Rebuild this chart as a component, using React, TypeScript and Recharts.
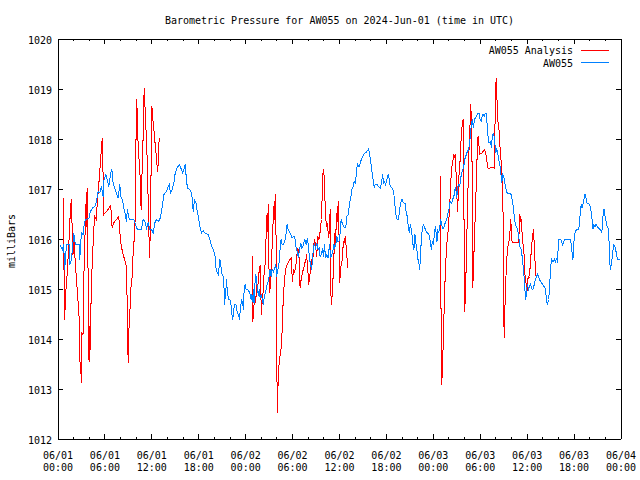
import React from 'react';
import { LineChart, Line, XAxis, YAxis } from 'recharts';

// ---- AW055 station observations (hours since 2024-06-01 00:00 UTC, millibars) ----
const stationDay1Hours = [0.21,0.56,0.73,0.85,0.98,1.07,1.41,1.50,1.71,1.84,2.01,2.14,2.26,2.69,2.78,2.86,2.99,3.20,3.37,3.54,3.97,4.14,4.40,4.70,4.91,5.12,5.34,5.55,5.76,5.89,6.11,6.28,6.49,6.62,6.75,6.88,7.05,7.26,7.47,7.69,7.90,8.03,8.24,8.41,8.58,8.75,8.88,9.01,9.18,9.69,9.86,10.03,10.25,10.68,10.89,11.10,11.32,11.53,11.74,11.96,12.17,12.38,12.60,12.81,13.02,13.24,13.37,13.54,13.88,14.09,14.22,14.39,14.60,14.82,14.99,15.24,15.50,15.71,15.93,16.10,16.27,16.44,16.57,16.87,17.08,17.21,17.29,17.46,17.64,17.81,17.98,18.15,18.36,18.57,18.79,19.21,19.43,19.64,19.86,20.07,20.15,20.28,20.50,20.67,20.71,20.84,20.93,21.14,21.23,21.27,21.44,21.57,21.65,21.83,22.08,22.21,22.34,22.47,22.55,22.76,22.94,23.11,23.19,23.36,23.49,23.62,23.70,23.79,23.92];
const stationDay1Mb = [1015.89,1015.79,1015.89,1015.39,1015.62,1015.89,1015.89,1015.49,1015.59,1015.79,1016.12,1015.95,1015.89,1015.89,1015.59,1015.79,1016.12,1016.09,1016.32,1016.39,1016.42,1016.55,1016.62,1016.65,1016.75,1016.95,1016.92,1017.05,1016.85,1017.19,1017.29,1017.19,1017.05,1017.19,1017.32,1017.40,1017.12,1017.02,1016.92,1016.82,1017.09,1016.85,1016.79,1016.62,1016.52,1016.35,1016.59,1016.45,1016.39,1016.39,1016.32,1016.22,1016.19,1016.19,1016.39,1016.35,1016.22,1016.32,1016.19,1016.19,1016.12,1016.32,1016.39,1016.35,1016.39,1016.55,1016.69,1016.89,1016.95,1017.05,1017.09,1016.92,1016.99,1017.12,1017.32,1017.42,1017.49,1017.42,1017.32,1017.39,1017.49,1017.15,1017.02,1016.99,1016.92,1016.75,1016.55,1016.79,1016.72,1016.55,1016.42,1016.25,1016.12,1016.17,1016.12,1016.09,1015.99,1015.85,1015.79,1015.69,1015.49,1015.35,1015.29,1015.52,1015.59,1015.45,1015.32,1015.25,1015.02,1014.69,1014.92,1015.19,1014.92,1014.79,1014.77,1014.52,1014.39,1014.55,1014.69,1014.69,1014.52,1014.49,1014.39,1014.65,1014.79,1014.72,1014.59,1014.92,1015.09];

const stationDay2aHours = [24.05,24.22,24.43,24.56,24.69,24.81,24.90,24.98,25.07,25.16,25.28,25.41,25.50,25.63,25.75,25.84,25.97,26.10,26.27,26.39,26.56,26.69,26.82,26.95,27.03,27.12,27.25,27.38,27.55,27.72,27.85,27.97,28.10,28.23,28.40,28.53,28.66,28.83,29.04,29.17,29.30,29.43,29.60,29.77,29.94,30.11,30.28,30.45,30.62,30.75,30.88,31.05,31.18,31.30,31.43,31.56,31.73,31.90];
const stationDay2aMb = [1014.99,1014.99,1014.95,1014.89,1014.79,1014.89,1014.75,1014.99,1014.72,1015.05,1015.29,1015.19,1014.95,1014.89,1014.99,1014.82,1014.89,1014.82,1014.69,1014.85,1014.95,1015.05,1015.12,1015.19,1015.29,1015.39,1015.25,1015.39,1015.35,1015.42,1015.49,1015.25,1015.39,1015.45,1015.79,1015.99,1015.89,1015.89,1015.99,1016.12,1016.30,1016.19,1016.15,1016.09,1016.02,1016.05,1016.05,1015.82,1015.72,1015.62,1015.79,1015.92,1015.82,1015.85,1015.92,1015.99,1015.89,1016.02];

const stationDay2bHours = [32.03,32.16,32.29,32.41,32.54,32.67,32.80,32.93,33.10,33.27,33.40,33.52,33.70,33.82,33.95,34.08,34.21,34.38,34.55,34.72,34.89,35.02,35.15,35.27,35.40,35.53,35.66,35.79,35.92,36.09,36.21,36.34,36.51,36.68,36.81,36.94,37.11,37.24,37.37,37.50,37.62,37.75,37.88,38.05,38.18,38.31,38.48,38.65];
const stationDay2bMb = [1015.85,1015.62,1015.49,1015.39,1015.55,1015.85,1015.89,1015.82,1015.92,1015.79,1015.82,1015.65,1015.69,1015.82,1015.65,1015.89,1015.62,1015.69,1015.62,1015.89,1015.62,1015.69,1015.75,1015.89,1015.82,1015.89,1016.05,1015.95,1015.95,1016.12,1016.39,1016.32,1016.25,1016.22,1016.25,1016.45,1016.49,1016.65,1016.79,1016.89,1017.02,1017.05,1017.15,1017.12,1017.39,1017.49,1017.44,1017.52];

const stationDay2cHours = [38.86,39.08,39.29,39.50,39.72,39.85,40.02,40.14,40.27,40.44,40.57,40.78,41.00,41.21,41.34,41.51,41.64,41.77,41.90,42.07,42.24,42.36,42.49,42.71,42.92,43.05,43.18,43.35,43.56,43.69,43.82,43.99,44.20,44.41,44.54,44.67,44.80,44.93,45.05,45.18,45.31,45.40,45.52,45.65,45.74,45.82,45.95,46.04,46.17,46.25,46.34,46.46,46.59,46.72,46.85,46.98,47.10,47.23,47.36,47.49,47.62,47.75,47.87];
const stationDay2cMb = [1017.62,1017.69,1017.72,1017.75,1017.80,1017.69,1017.52,1017.35,1017.22,1017.02,1017.09,1017.09,1017.05,1017.02,1017.09,1017.29,1017.12,1017.15,1017.09,1017.19,1017.29,1017.19,1017.05,1017.02,1016.95,1016.75,1016.52,1016.40,1016.40,1016.59,1016.72,1016.79,1016.72,1016.71,1016.52,1016.45,1016.25,1016.12,1016.29,1016.19,1016.05,1015.89,1015.79,1016.09,1015.95,1015.85,1015.72,1015.59,1015.49,1015.39,1015.59,1015.99,1016.19,1016.29,1016.25,1016.19,1016.15,1016.12,1016.12,1016.05,1015.95,1015.79,1015.95];

const stationDay3aHours = [48.00,48.13,48.26,48.39,48.47,48.56,48.68,48.81,48.94,49.07,49.20,49.32,49.45,49.58,49.75,49.88,49.97,50.09,50.22,50.35,50.48,50.61,50.73,50.86,50.99,51.12,51.25,51.37,51.50,51.63,51.76,51.89,52.01,52.14,52.27,52.40,52.53,52.66,52.74,52.87,52.99,53.12,53.25,53.38,53.51,53.59,53.72,53.85,53.98,54.11,54.24,54.36,54.49,54.62,54.79,54.88,55.00,55.13,55.30,55.43,55.56,55.73,55.86,55.99,56.11,56.24,56.37,56.50,56.63,56.75,56.88,57.01,57.14,57.27,57.44,57.61,57.78,57.95,58.08,58.21,58.33,58.46,58.59,58.72,58.85,58.97,59.10,59.23,59.36,59.49,59.57,59.66,59.74,59.83,59.91];
const stationDay3aMb = [1015.89,1016.09,1016.25,1016.09,1015.95,1016.19,1016.12,1016.22,1016.39,1016.29,1016.22,1016.22,1016.29,1016.35,1016.42,1016.52,1016.55,1016.72,1016.75,1016.72,1016.82,1016.82,1016.99,1017.02,1016.82,1017.05,1017.09,1017.05,1017.22,1017.32,1017.39,1017.45,1017.59,1017.65,1017.72,1017.75,1017.82,1017.92,1018.12,1018.29,1018.39,1018.22,1018.39,1018.42,1018.45,1018.49,1018.52,1018.51,1018.39,1018.35,1018.45,1018.49,1018.45,1018.51,1018.51,1018.29,1018.05,1017.92,1017.95,1017.82,1018.09,1018.11,1017.92,1017.72,1017.79,1017.72,1017.59,1017.49,1017.32,1017.12,1017.29,1017.25,1017.12,1017.02,1016.92,1016.91,1016.91,1016.89,1016.79,1016.65,1016.49,1016.32,1016.25,1016.22,1016.12,1015.99,1015.82,1015.79,1015.65,1015.45,1015.32,1015.12,1014.92,1014.79,1014.99];

const stationDay3bHours = [60.04,60.17,60.30,60.43,60.55,60.68,60.81,60.94,61.07,61.20,61.32,61.45,61.58,61.71,61.84,61.96,62.09,62.22,62.35,62.48,62.60,62.73,62.86,62.99,63.12,63.24,63.37,63.50,63.63,63.76,63.88,64.01,64.14,64.27,64.40,64.53,64.70,64.87,65.47,65.64,65.77,65.85,65.98,66.11,66.24,66.41,66.58,66.71,66.79,66.92,67.00,67.13,67.26,67.39,67.52,67.65,67.82,67.99,68.11,68.24,68.33,68.41,68.54,68.67,68.80,68.97,69.10,69.27,69.40,69.52,69.61,69.69,69.82,69.91,69.99,70.12,70.25,70.38,70.46,70.55,70.63,70.72,70.85,70.98,71.10,71.23,71.36,71.49,71.62,71.83];
const stationDay3bMb = [1015.09,1014.99,1015.05,1015.09,1015.02,1014.99,1015.02,1015.12,1015.19,1015.25,1015.29,1015.25,1015.19,1015.15,1015.12,1015.11,1015.05,1015.05,1014.99,1014.75,1014.69,1014.79,1014.99,1015.42,1015.59,1015.55,1015.55,1015.59,1015.55,1015.62,1015.52,1015.99,1016.00,1016.00,1015.95,1015.89,1015.95,1016.00,1016.00,1015.89,1015.69,1015.59,1015.95,1016.12,1016.17,1016.20,1016.20,1016.33,1016.55,1016.69,1016.62,1016.69,1016.79,1016.90,1016.82,1016.72,1016.71,1016.69,1016.62,1016.49,1016.32,1016.20,1016.29,1016.25,1016.29,1016.25,1016.22,1016.20,1016.20,1016.12,1016.22,1016.45,1016.60,1016.52,1016.42,1016.33,1016.24,1016.20,1015.99,1015.59,1015.39,1015.45,1015.59,1015.79,1015.89,1015.84,1015.75,1015.64,1015.59,1015.59];

// ---- AW055 Analysis (hours, millibars) ----
const analysisDay1Hours = [0.73,0.75,0.85,0.98,1.15,1.28,1.50,1.58,1.71,1.79,1.92,2.01,2.26,2.43,2.56,2.69,2.78,2.90,2.99,3.07,3.20,3.33,3.46,3.54,3.63,3.72,3.80,3.89,3.97,4.06,4.14,4.23,4.31,4.44,4.57,4.70,4.91,5.04,5.17,5.34,5.47,5.59,5.68,5.76,5.85,6.19,6.53,6.75,6.83,6.92,7.13,7.47,7.77,7.90,7.99,8.11,8.24,8.41,8.58,8.75,8.88,8.97,9.05,9.18,9.31,9.48,9.61,9.74,9.86,9.95,10.03,10.12,10.16,10.29,10.38,10.46,10.55,10.63,10.72,10.85,10.93,11.02,11.10,11.19,11.32,11.40,11.49,11.57,11.66,11.74,11.83,11.91,12.00,12.08,12.17,12.30,12.43,12.55,12.68,12.77,12.85,12.94];
const analysisDay1Mb = [1016.82,1015.62,1014.39,1014.92,1015.25,1015.59,1016.25,1016.59,1016.79,1016.32,1015.69,1016.05,1015.42,1015.05,1014.75,1014.45,1013.59,1013.45,1013.12,1014.12,1014.09,1015.39,1016.12,1016.69,1016.25,1017.02,1016.15,1014.39,1013.55,1014.25,1013.79,1014.79,1015.25,1015.72,1016.19,1016.45,1016.39,1016.79,1016.99,1017.35,1017.62,1017.92,1018.02,1017.32,1016.49,1016.55,1016.62,1016.67,1016.45,1016.22,1016.32,1016.39,1016.45,1016.19,1015.95,1015.85,1015.75,1015.65,1015.55,1015.45,1014.49,1013.52,1014.12,1014.49,1014.99,1015.25,1015.72,1015.99,1016.39,1017.59,1018.79,1018.59,1018.19,1017.79,1017.55,1017.39,1017.05,1016.59,1017.19,1017.79,1018.39,1019.02,1018.72,1018.45,1017.92,1017.62,1017.05,1016.45,1015.92,1015.62,1016.72,1017.39,1018.65,1018.52,1018.32,1018.12,1017.89,1017.69,1017.45,1017.35,1017.72,1018.02];

const analysisDay2Hours = [24.90,24.92,25.03,25.16,25.28,25.41,25.50,25.63,25.75,25.84,25.92,26.01,26.10,26.18,26.27,26.39,26.48,26.56,26.65,26.74,26.82,26.91,26.99,27.08,27.16,27.25,27.33,27.42,27.50,27.59,27.67,27.76,27.85,27.89,27.97,28.06,28.14,28.23,28.36,28.53,28.66,28.74,28.83,28.91,29.00,29.08,29.21,29.34,29.51,29.68,29.81,29.89,29.98,30.11,30.24,30.36,30.45,30.54,30.62,30.71,30.79,30.88,30.96,31.05,31.18,31.30,31.43,31.56,31.69,31.77,31.86,31.94,32.07,32.16,32.29,32.37,32.46,32.54,32.63,32.71,32.80,32.88,32.97,33.05,33.14,33.23,33.31,33.44,33.52,33.61,33.70,33.78,33.87,33.95,34.04,34.12,34.21,34.29,34.38,34.46,34.55,34.63,34.72,34.81,34.89,34.98,35.06,35.15,35.23,35.32,35.40,35.49,35.57,35.66,35.74,35.83,35.92,36.00,36.09,36.17,36.30,36.39,36.47,36.56,36.64,36.73,36.81,36.90,36.98,37.07];
const analysisDay2Mb = [1015.65,1014.35,1014.59,1014.92,1014.72,1015.09,1014.92,1015.22,1015.39,1015.47,1015.05,1014.49,1014.72,1014.79,1015.09,1015.39,1015.49,1015.82,1016.19,1016.52,1016.15,1016.69,1015.32,1014.92,1015.12,1015.39,1015.65,1015.99,1016.32,1016.59,1016.75,1016.35,1016.90,1015.82,1013.62,1012.52,1013.09,1013.42,1013.62,1013.82,1014.15,1014.55,1014.85,1015.05,1015.22,1015.39,1015.45,1015.49,1015.55,1015.59,1015.62,1015.39,1015.15,1015.39,1015.32,1015.42,1015.52,1015.65,1015.82,1015.65,1015.79,1015.39,1015.02,1015.15,1015.25,1015.35,1015.42,1015.52,1015.55,1015.69,1015.55,1015.39,1015.09,1015.25,1015.35,1015.49,1015.59,1015.62,1015.65,1015.89,1015.99,1015.92,1015.85,1015.65,1015.79,1016.05,1015.99,1016.02,1016.15,1016.29,1016.39,1016.85,1017.29,1017.40,1017.25,1016.85,1016.55,1016.32,1016.25,1016.32,1016.12,1016.02,1016.25,1016.59,1014.92,1014.69,1014.89,1015.12,1015.45,1015.79,1016.12,1015.92,1016.25,1016.52,1016.35,1016.75,1016.39,1015.12,1015.25,1015.45,1015.52,1015.65,1015.89,1015.95,1015.92,1016.05,1015.92,1015.72,1015.59,1015.42];

const analysisDay3Hours = [48.90,48.95,49.07,49.15,49.24,49.32,49.41,49.50,49.62,49.71,49.84,49.92,50.01,50.09,50.18,50.26,50.35,50.43,50.52,50.61,50.69,50.78,50.86,50.95,51.03,51.12,51.20,51.29,51.37,51.46,51.55,51.63,51.72,51.80,51.89,51.97,52.02,52.10,52.19,52.27,52.36,52.44,52.53,52.61,52.70,52.78,52.87,52.95,53.04,53.12,53.21,53.30,53.38,53.47,53.55,53.64,53.72,53.81,53.89,54.28,54.53,54.66,54.79,54.88,55.00,55.30,55.64,55.77,55.86,55.94,56.03,56.11,56.20,56.28,56.37,56.46,56.54,56.63,56.71,56.80,56.88,56.97,57.05,57.14,57.22,57.31,57.39,57.48,57.61,57.74,57.82,57.91,57.99,58.08,58.50,58.85,58.93,59.02,59.10,59.19,59.27,59.36,59.44,59.53,59.62,59.70,59.79,59.87,59.96,60.04,60.13,60.21,60.30,60.38,60.47,60.55,60.64,60.73,60.81,60.90,60.98,61.07];
const analysisDay3Mb = [1017.25,1015.19,1013.09,1013.35,1013.79,1014.25,1014.72,1015.19,1015.62,1015.89,1016.05,1016.25,1016.45,1016.69,1016.92,1017.22,1017.42,1017.52,1017.59,1017.69,1017.65,1017.69,1017.45,1017.19,1016.79,1016.55,1017.02,1017.29,1017.42,1017.69,1017.99,1018.19,1018.29,1018.39,1017.05,1015.45,1014.55,1014.92,1015.39,1015.99,1016.49,1017.05,1017.62,1017.99,1018.32,1018.69,1018.39,1017.52,1015.02,1015.32,1015.79,1016.19,1016.59,1016.99,1017.45,1017.79,1018.05,1017.99,1017.69,1017.73,1017.79,1017.75,1017.62,1017.52,1017.42,1017.42,1017.44,1017.42,1018.05,1018.72,1019.22,1018.95,1018.52,1018.32,1018.29,1017.95,1017.82,1017.65,1017.39,1017.19,1017.02,1015.59,1014.02,1014.52,1015.02,1015.32,1015.59,1015.79,1015.92,1015.99,1016.19,1016.39,1016.09,1015.92,1015.93,1015.92,1015.95,1016.49,1016.35,1016.45,1016.25,1016.12,1015.95,1015.82,1015.65,1015.32,1015.19,1015.09,1014.92,1015.12,1015.25,1015.22,1015.25,1015.45,1015.65,1015.79,1015.99,1016.09,1016.19,1015.89,1015.65,1015.25];

// hours at which the analysis has no data (breaks the line)
const analysisGapHours = [13.0, 37.2];

// ---- axes ----
const xMinorTicks = [0,2,4,6,8,10,12,14,16,18,20,22,24,26,28,30,32,34,36,38,40,42,44,46,48,50,52,54,56,58,60,62,64,66,68,70,72];
const xMajorTicks = [0,6,12,18,24,30,36,42,48,54,60,66,72];
const xTickDates = ['06/01','06/01','06/01','06/01','06/02','06/02','06/02','06/02','06/03','06/03','06/03','06/03','06/04'];
const xTickTimes = ['00:00','06:00','12:00','18:00','00:00','06:00','12:00','18:00','00:00','06:00','12:00','18:00','00:00'];
const yTicks = [1012,1013,1014,1015,1016,1017,1018,1019,1020];
const yTickLabels = ['1012','1013','1014','1015','1016','1017','1018','1019','1020'];

const TITLE = 'Barometric Pressure for AW055 on 2024-Jun-01 (time in UTC)';
const Y_LABEL = 'milliBars';
const SERIES_ANALYSIS = 'AW055 Analysis';
const SERIES_STATION = 'AW055';
const RED = '#ff0000';
const BLUE = '#0080ff';
const FONT = '"DejaVu Sans Mono", monospace';

type Pt = { t: number; mb: number | null };
const toPoints = (hours: number[], mb: number[]): Pt[] =>
  hours.slice(0, Math.min(hours.length, mb.length)).map((t, i) => ({ t, mb: mb[i] }));

const stationData: Pt[] = [
  ...toPoints(stationDay1Hours, stationDay1Mb),
  ...toPoints(stationDay2aHours, stationDay2aMb),
  ...toPoints(stationDay2bHours, stationDay2bMb),
  ...toPoints(stationDay2cHours, stationDay2cMb),
  ...toPoints(stationDay3aHours, stationDay3aMb),
  ...toPoints(stationDay3bHours, stationDay3bMb),
];

const analysisData: Pt[] = [
  ...toPoints(analysisDay1Hours, analysisDay1Mb),
  { t: analysisGapHours[0], mb: null },
  ...toPoints(analysisDay2Hours, analysisDay2Mb),
  { t: analysisGapHours[1], mb: null },
  ...toPoints(analysisDay3Hours, analysisDay3Mb),
];

const txt = { fontFamily: FONT, fontSize: 10, fill: '#000' } as const;

const BottomTick = (p: any) => {
  const { x, y, payload } = p;
  const k = xMajorTicks.indexOf(payload.value);
  const len = k >= 0 ? 5 : 2;
  return (
    <g>
      <line x1={x} x2={x} y1={y} y2={y - len} stroke="#000" shapeRendering="crispEdges" />
      {k >= 0 && (
        <>
          <text x={x} y={y + 19.5} textAnchor="middle" {...txt}>{xTickDates[k]}</text>
          <text x={x} y={y + 32} textAnchor="middle" {...txt}>{xTickTimes[k]}</text>
        </>
      )}
    </g>
  );
};

const TopTick = (p: any) => {
  const { x, y, payload } = p;
  const len = xMajorTicks.indexOf(payload.value) >= 0 ? 5 : 2;
  return <line x1={x} x2={x} y1={y} y2={y + len} stroke="#000" shapeRendering="crispEdges" />;
};

const LeftTick = (p: any) => {
  const { x, y, payload } = p;
  const k = yTicks.indexOf(payload.value);
  return (
    <g>
      <line x1={x} x2={x + 5} y1={y} y2={y} stroke="#000" shapeRendering="crispEdges" />
      <text x={x - 6} y={y + 4.5} textAnchor="end" {...txt}>{yTickLabels[k]}</text>
    </g>
  );
};

const RightTick = (p: any) => {
  const { x, y } = p;
  return <line x1={x} x2={x - 5} y1={y} y2={y} stroke="#000" shapeRendering="crispEdges" />;
};

const axisLine = { stroke: '#000', strokeWidth: 1, shapeRendering: 'crispEdges' } as any;

export default function App() {
  return (
    <div style={{ position: 'relative', width: 640, height: 480, background: '#fff' }}>
      <style>{`html,body{margin:0;padding:0;overflow:hidden;background:#fff;}`}</style>
      <LineChart width={640} height={480} margin={{ top: 38, right: 18, bottom: 40, left: 57 }}>
        <XAxis xAxisId="b" dataKey="t" type="number" domain={[0, 72]} ticks={xMinorTicks} interval={0}
          orientation="bottom" height={1} tickSize={0} tickMargin={0} tickLine={false}
          axisLine={axisLine} tick={BottomTick} allowDataOverflow />
        <XAxis xAxisId="t" dataKey="t" type="number" domain={[0, 72]} ticks={xMinorTicks} interval={0}
          orientation="top" height={1} tickSize={0} tickMargin={0} tickLine={false}
          axisLine={axisLine} tick={TopTick} allowDataOverflow />
        <YAxis yAxisId="l" type="number" domain={[1012, 1020]} ticks={yTicks} interval={0}
          orientation="left" width={1} tickSize={0} tickMargin={0} tickLine={false}
          axisLine={axisLine} tick={LeftTick} allowDataOverflow />
        <YAxis yAxisId="r" type="number" domain={[1012, 1020]} ticks={yTicks} interval={0}
          orientation="right" width={1} tickSize={0} tickMargin={0} tickLine={false}
          axisLine={axisLine} tick={RightTick} allowDataOverflow />
        <Line xAxisId="b" yAxisId="l" data={analysisData} dataKey="mb" name={SERIES_ANALYSIS}
          type="linear" stroke={RED} strokeWidth={1} dot={false} activeDot={false}
          connectNulls={false} isAnimationActive={false} shapeRendering="crispEdges" />
        <Line xAxisId="b" yAxisId="l" data={stationData} dataKey="mb" name={SERIES_STATION}
          type="linear" stroke={BLUE} strokeWidth={1} dot={false} activeDot={false}
          isAnimationActive={false} shapeRendering="crispEdges" />
      </LineChart>
      <svg width={640} height={480} style={{ position: 'absolute', left: 0, top: 0, pointerEvents: 'none' }}>
        <text x={339.5} y={24} textAnchor="middle" {...txt}>{TITLE}</text>
        <text x={15} y={241} textAnchor="middle" transform="rotate(-90 15 241)" {...txt}>{Y_LABEL}</text>
        <text x={573} y={54} textAnchor="end" {...txt}>{SERIES_ANALYSIS}</text>
        <line x1={581} x2={609} y1={50} y2={50} stroke={RED} shapeRendering="crispEdges" />
        <text x={573} y={67} textAnchor="end" {...txt}>{SERIES_STATION}</text>
        <line x1={581} x2={609} y1={62.5} y2={62.5} stroke={BLUE} shapeRendering="crispEdges" />
      </svg>
    </div>
  );
}
